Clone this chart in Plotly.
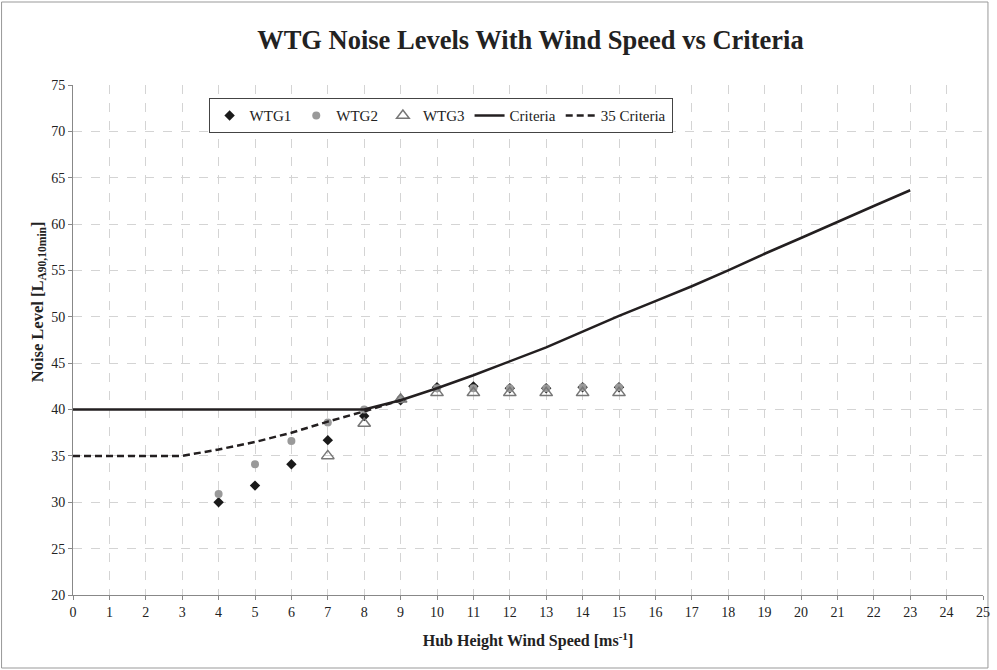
import plotly.graph_objects as go

wtg1_x = [4, 5, 6, 7, 8, 9, 10, 11, 12, 13, 14, 15]
wtg1_y = [30.0, 31.8, 34.1, 36.7, 39.3, 41.0, 42.4, 42.5, 42.3, 42.3, 42.4, 42.4]

wtg2_x = [4, 5, 6, 7, 8, 9, 10, 11, 12, 13, 14, 15]
wtg2_y = [30.9, 34.1, 36.6, 38.6, 40.0, 41.1, 42.3, 42.3, 42.3, 42.3, 42.4, 42.4]

wtg3_x = [7, 8, 9, 10, 11, 12, 13, 14, 15]
wtg3_y = [35.0, 38.5, 41.1, 41.8, 41.8, 41.8, 41.8, 41.8, 41.8]

crit_x = list(range(0, 24))
crit_y = [40, 40, 40, 40, 40, 40, 40, 40, 40, 41.0, 42.3, 43.7, 45.2, 46.7,
          48.4, 50.1, 51.7, 53.3, 55.0, 56.8, 58.5, 60.25, 61.95, 63.65]

crit35_x = list(range(0, 10))
crit35_y = [35, 35, 35, 35, 35.7, 36.5, 37.5, 38.7, 39.8, 41.0]

x_ticks = list(range(0, 26))
y_ticks = list(range(20, 80, 5))

FONT = "Liberation Serif, Times New Roman, serif"
LINE = "#231f20"

fig = go.Figure()
fig.add_trace(go.Scatter(x=wtg1_x, y=wtg1_y, mode="markers", name="WTG1",
                         marker=dict(symbol="diamond", size=8, color="#1a1a1a")))
fig.add_trace(go.Scatter(x=wtg2_x, y=wtg2_y, mode="markers", name="WTG2",
                         marker=dict(symbol="circle", size=8, color="#999999")))
fig.add_trace(go.Scatter(x=wtg3_x, y=wtg3_y, mode="markers", name="WTG3",
                         marker=dict(symbol="triangle-up-open", size=11, color="#777777",
                                     line=dict(width=1.5, color="#777777"))))
fig.add_trace(go.Scatter(x=crit_x, y=crit_y, mode="lines", name="Criteria",
                         line=dict(color=LINE, width=2.5)))
fig.add_trace(go.Scatter(x=crit35_x, y=crit35_y, mode="lines", name="35 Criteria",
                         line=dict(color=LINE, width=2.5, dash="7px,4px")))

fig.update_layout(
    width=997, height=670,
    margin=dict(l=73, r=7, t=85, b=75),
    paper_bgcolor="white", plot_bgcolor="white",
    font=dict(family=FONT, size=14, color="#222222"),
    title=dict(text="<b>WTG Noise Levels With Wind Speed vs Criteria</b>",
               x=0.532, xanchor="center", y=0.94, yanchor="middle",
               font=dict(family=FONT, size=26.5, color="#222222")),
    showlegend=True,
    legend=dict(orientation="h", x=0.149, y=0.974, xanchor="left", yanchor="top",
                bordercolor="#444444", borderwidth=1, bgcolor="white",
                font=dict(family=FONT, size=15), itemwidth=30,
                tracegroupgap=0),
    shapes=[dict(type="rect", xref="paper", yref="paper",
                 x0=-72/917, x1=1+5/917, y0=-73/510, y1=1+83/510,
                 line=dict(color="#999999", width=1), fillcolor="rgba(0,0,0,0)",
                 layer="below")],
    annotations=[dict(text="<b>Noise Level [L<sub>A90,10min</sub>]</b>",
                      xref="paper", yref="paper", x=-0.039, y=0.575,
                      xanchor="center", yanchor="middle", textangle=-90,
                      showarrow=False, font=dict(family=FONT, size=16.5, color="#222222"))],
)

fig.update_xaxes(range=[0, 25], tickvals=x_ticks, ticktext=[str(v) for v in x_ticks],
                 showgrid=True, gridcolor="#d4d4d4", griddash="dash", gridwidth=1,
                 showline=True, linecolor="#888888", linewidth=1,
                 ticks="outside", ticklen=4, tickcolor="#888888",
                 zeroline=False, tickfont=dict(family=FONT, size=14),
                 title=dict(text="<b>Hub Height Wind Speed [ms<sup>-1</sup>]</b>",
                            font=dict(family=FONT, size=16), standoff=16))
fig.update_yaxes(range=[20, 75], tickvals=y_ticks, ticktext=[str(v) for v in y_ticks],
                 showgrid=True, gridcolor="#d4d4d4", griddash="dash", gridwidth=1,
                 showline=True, linecolor="#888888", linewidth=1,
                 ticks="outside", ticklen=4, tickcolor="#888888",
                 zeroline=False, tickfont=dict(family=FONT, size=14))

fig.write_html("out.html", config={"displayModeBar": False},
               post_script="document.body.style.margin='0';")
